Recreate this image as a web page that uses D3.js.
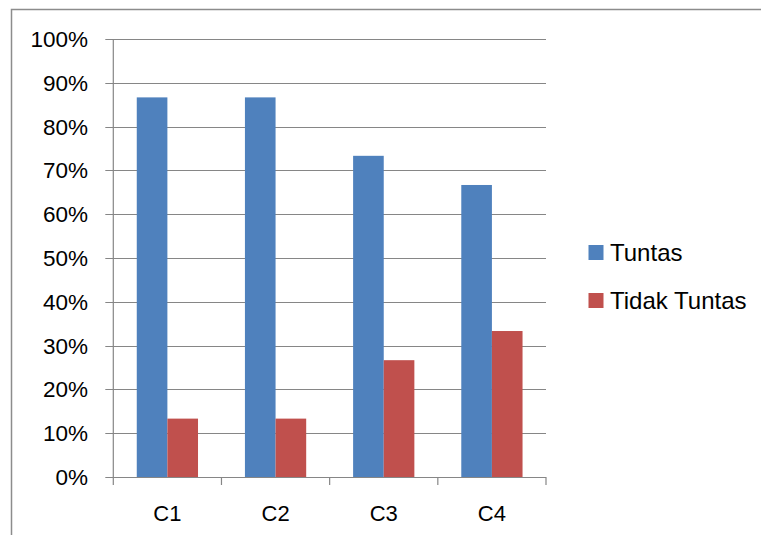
<!DOCTYPE html>
<html>
<head>
<meta charset="utf-8">
<script src="https://cdn.jsdelivr.net/npm/d3@7"></script>
<style>
  html, body { margin: 0; padding: 0; background: #fff; }
  svg { display: block; }
  text { font-family: "Liberation Sans", Arial, sans-serif; fill: #000; }
</style>
</head>
<body>
<svg id="chart" width="761" height="535"></svg>
<script>
// Chart data
const categories = ["C1", "C2", "C3", "C4"];
const seriesNames = ["Tuntas", "Tidak Tuntas"];
const tuntas = [86.67, 86.67, 73.33, 66.67];
const tidakTuntas = [13.33, 13.33, 26.67, 33.33];
const yTicks = [0, 10, 20, 30, 40, 50, 60, 70, 80, 90, 100];
const colors = ["#4F81BD", "#C0504D"];

const svg = d3.select("#chart");
const plot = { left: 113.3, right: 546, top: 39, bottom: 477 };
const gridColor = "#868686";

// Outer chart frame (extends past the right and bottom edges)
svg.append("rect")
  .attr("x", 11.5).attr("y", 9.5)
  .attr("width", 780).attr("height", 560)
  .attr("fill", "none").attr("stroke", "#8c8c8c").attr("stroke-width", 1.5);

const x = d3.scaleBand().domain(categories).range([plot.left, plot.right]).paddingInner(0).paddingOuter(0);
const y = d3.scaleLinear().domain([0, 100]).range([plot.bottom, plot.top]);

// Horizontal gridlines with tick stubs on the left
svg.append("g").selectAll("line").data(yTicks).join("line")
  .attr("x1", plot.left - 8).attr("x2", plot.right)
  .attr("y1", d => Math.round(y(d)) + 0.5).attr("y2", d => Math.round(y(d)) + 0.5)
  .attr("stroke", gridColor).attr("stroke-width", 1.2);

// Y tick labels
svg.append("g").selectAll("text").data(yTicks).join("text")
  .attr("x", 88).attr("y", d => y(d) + 8)
  .attr("text-anchor", "end")
  .attr("font-size", 22.5)
  .text(d => d + "%");

// Bars
const group = d3.scaleBand().domain(seriesNames).range([0, x.bandwidth()]).paddingInner(0).paddingOuter(0.766);
const series = [tuntas, tidakTuntas];
series.forEach((vals, si) => {
  svg.append("g").selectAll("rect").data(vals).join("rect")
    .attr("x", (d, i) => x(categories[i]) + group(seriesNames[si]))
    .attr("width", group.bandwidth())
    .attr("y", d => y(d))
    .attr("height", d => y(0) - y(d))
    .attr("fill", colors[si]);
});

// Y axis line
svg.append("line")
  .attr("x1", plot.left).attr("x2", plot.left)
  .attr("y1", plot.top).attr("y2", plot.bottom)
  .attr("stroke", gridColor).attr("stroke-width", 1.2);

// X axis line and category tick marks
svg.append("line")
  .attr("x1", plot.left).attr("x2", plot.right)
  .attr("y1", Math.round(y(0)) + 0.5).attr("y2", Math.round(y(0)) + 0.5)
  .attr("stroke", gridColor).attr("stroke-width", 1.2);
const boundaries = categories.map(c => x(c)).concat([plot.right]);
svg.append("g").selectAll("line").data(boundaries).join("line")
  .attr("x1", d => d).attr("x2", d => d)
  .attr("y1", plot.bottom).attr("y2", plot.bottom + 8)
  .attr("stroke", gridColor).attr("stroke-width", 1.2);

// Category labels
svg.append("g").selectAll("text").data(categories).join("text")
  .attr("x", d => x(d) + x.bandwidth() / 2)
  .attr("y", 521)
  .attr("text-anchor", "middle")
  .attr("font-size", 22)
  .text(d => d);

// Legend
const legendY = [252.5, 300.5];
seriesNames.forEach((name, i) => {
  svg.append("rect")
    .attr("x", 588.5).attr("y", legendY[i] - 7.5)
    .attr("width", 15).attr("height", 15)
    .attr("fill", colors[i]);
  svg.append("text")
    .attr("x", 610).attr("y", legendY[i] + 8)
    .attr("font-size", 24)
    .text(name);
});
</script>
</body>
</html>
